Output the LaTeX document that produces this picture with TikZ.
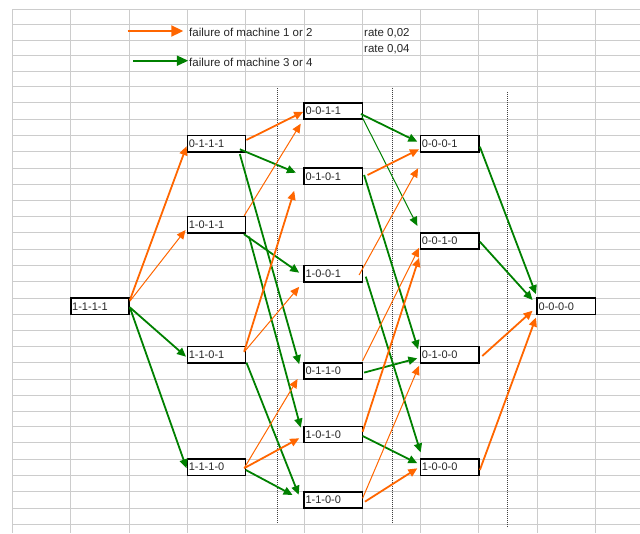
\documentclass[tikz,border=0pt]{standalone}
\usepackage{fontspec}
\setmainfont{Liberation Sans}
\usepackage{tikz}
\usetikzlibrary{arrows.meta}
\definecolor{xlorange}{RGB}{255,102,0}
\definecolor{xlgreen}{RGB}{0,128,0}
\definecolor{xlgrid}{RGB}{204,204,204}

\begin{document}
\begin{tikzpicture}[
  x=1pt, y=-1pt,
  state/.style={rectangle, draw=black, line width=1.6pt, fill=white,
                minimum height=16.2pt, inner xsep=1.5pt, inner ysep=0pt,
                text width=55.3pt, align=left, text=black!85,
                font=\fontsize{11}{13}\selectfont},
  note/.style={anchor=base west, inner sep=0pt, text=black!85,
               font=\fontsize{11.5}{14}\selectfont},
  orarr/.style={-{Triangle[length=9pt,width=8pt]}, draw=xlorange, line width=1.8pt},
  orthin/.style={orarr, line width=1pt},
  grarr/.style={-{Triangle[length=9pt,width=8pt]}, draw=xlgreen, line width=1.8pt},
  grthin/.style={grarr, line width=1pt},
  legor/.style={-{Triangle[length=12pt,width=11pt]}, draw=xlorange, line width=2pt},
  leggr/.style={-{Triangle[length=11.5pt,width=10pt]}, draw=xlgreen, line width=2pt},
  gridline/.style={draw=xlgrid, line width=0.9pt},
  divider/.style={draw=black!75, line width=0.6pt, dash pattern=on 1pt off 1pt},
]
  \useasboundingbox (0,0) rectangle (640,533);

  % sheet
  \foreach \i in {0,...,10}
    \draw[gridline] ({12.3+58.33*\i},9.3) -- ({12.3+58.33*\i},533);
  \foreach \gy in {9.3,24.3,40,55.7,71,86.7,102.3,119.3,135.7,151.7,168.3,184.3,
                   200.7,216.7,232.7,249,265.7,281.7,298.3,314.3,330.7,346.7,362.7,
                   379,395,411,426.7,442.3,459.3,475,491.7,508.3,524}
    \draw[gridline] (12.3,\gy) -- (640,\gy);
  \draw[divider] (277,88) -- (277,523.5);
  \draw[divider] (392,87.5) -- (392,523);
  \draw[divider] (507,92) -- (507,527);

  % legend
  \coordinate (or0) at (127.7,31);
  \coordinate (or1) at (183.3,31);
  \coordinate (gr0) at (133.3,60.7);
  \coordinate (gr1) at (188.3,60.7);
  \draw[legor] (or0) -- (or1);
  \draw[leggr] (gr0) -- (gr1);
  \node[note] (lg12) at (189,36.5) {failure of machine 1 or 2};
  \node[note] (lg34) at (189,66.5) {failure of machine 3 or 4};
  \node[note] (rt12) at (364,36.5) {rate 0,02};
  \node[note] (rt34) at (364,52) {rate 0,04};

  % states
  \node[state] (n1111) at (99.85,306.3) {1-1-1-1};
  \node[state] (n0111) at (216.5,143.7) {0-1-1-1};
  \node[state] (n1011) at (216.5,224.7) {1-0-1-1};
  \node[state] (n1101) at (216.5,354.7) {1-1-0-1};
  \node[state] (n1110) at (216.5,467.2) {1-1-1-0};
  \node[state] (n0011) at (333.15,110.8) {0-0-1-1};
  \node[state] (n0101) at (333.15,176.3) {0-1-0-1};
  \node[state] (n1001) at (333.15,273.7) {1-0-0-1};
  \node[state] (n0110) at (333.15,371.1) {0-1-1-0};
  \node[state] (n1010) at (333.15,434.5) {1-0-1-0};
  \node[state] (n1100) at (333.15,500) {1-1-0-0};
  \node[state] (n0001) at (449.6,143.7) {0-0-0-1};
  \node[state] (n0010) at (449.6,240.8) {0-0-1-0};
  \node[state] (n0100) at (449.6,354.7) {0-1-0-0};
  \node[state] (n1000) at (449.6,467.2) {1-0-0-0};
  \node[state] (n0000) at (566.3,306.3) {0-0-0-0};

  % transitions
  \draw[orarr] ([shift={(0,-6)}]n1111.east) -- ([shift={(0,2.5)}]n0111.west);
  \draw[orthin] ([shift={(0,-5)}]n1111.east) -- ([shift={(-1,5.3)}]n1011.west);
  \draw[grarr] ([shift={(0,1)}]n1111.east) -- ([shift={(-0.5,2)}]n1101.west);
  \draw[grarr] ([shift={(0,1)}]n1111.east) -- ([shift={(0,1)}]n1110.west);

  \draw[orarr] ([shift={(0,-3.7)}]n0111.east) -- ([shift={(0,1)}]n0011.west);
  \draw[grarr] ([shift={(-6.6,5.6)}]n0111.east) -- ([shift={(-7.3,-3.6)}]n0101.west);
  \draw[grarr] ([shift={(-6.6,1.5)}]n0111.south east) -- ([shift={(-4,2)}]n0110.north west);
  \draw[orthin] ([shift={(-2.3,0)}]n1011.north east) -- ([shift={(-2.5,4)}]n0011.south west);
  \draw[grarr] ([shift={(-2.6,0.5)}]n1011.south east) -- ([shift={(-4,-1)}]n1001.west);
  \draw[grarr] ([shift={(2.6,3)}]n1011.south east) -- ([shift={(-2.5,2)}]n1010.north west);
  \draw[orarr] ([shift={(-2.3,-3)}]n1101.east) -- ([shift={(-9,5.6)}]n0101.south west);
  \draw[orthin] ([shift={(-2.3,-2.7)}]n1101.east) -- ([shift={(-4,4.2)}]n1001.south west);
  \draw[grarr] ([shift={(0,-1)}]n1101.south east) -- ([shift={(-4.5,3.6)}]n1100.north west);
  \draw[orthin] ([shift={(-2.3,1)}]n1110.east) -- ([shift={(-5.6,-1)}]n0110.south west);
  \draw[orarr] ([shift={(-2.3,1)}]n1110.east) -- ([shift={(-4,3.8)}]n1010.west);
  \draw[grarr] ([shift={(-0.6,2.8)}]n1110.east) -- ([shift={(-10.6,-5)}]n1100.west);

  \draw[grarr] ([shift={(-2.2,3.2)}]n0011.east) -- ([shift={(-2.3,-2)}]n0001.west);
  \draw[grthin] ([shift={(-1.2,5.9)}]n0011.east) -- ([shift={(-2.3,-6)}]n0010.north west);
  \draw[orarr] ([shift={(4.4,-1.3)}]n0101.east) -- ([shift={(-0.6,5.6)}]n0001.west);
  \draw[grarr] ([shift={(1,-1.3)}]n0101.east) -- ([shift={(-1.6,3.4)}]n0100.north west);
  \draw[orthin] ([shift={(-4,1.3)}]n1001.east) -- ([shift={(-1.6,15.7)}]n0001.south west);
  \draw[grarr] ([shift={(2.7,3)}]n1001.east) -- ([shift={(1,-5.8)}]n1000.north west);
  \draw[orthin] ([shift={(-0.5,-1.4)}]n0110.north east) -- ([shift={(-0.6,-1.9)}]n0010.south west);
  \draw[grarr] ([shift={(1,1.5)}]n0110.east) -- ([shift={(-2.3,3.6)}]n0100.west);
  \draw[orarr] ([shift={(-0.5,-2.8)}]n1010.east) -- ([shift={(-0.6,8.1)}]n0010.south west);
  \draw[grarr] ([shift={(-0.5,1.5)}]n1010.east) -- ([shift={(-2.3,-3.9)}]n1000.west);
  \draw[orthin] ([shift={(-0.5,-1.7)}]n1100.east) -- ([shift={(-0.6,2.2)}]n0100.south west);
  \draw[orarr] ([shift={(1.8,1.7)}]n1100.east) -- ([shift={(-2.3,1.1)}]n1000.west);

  \draw[grarr] ([shift={(0.3,3)}]n0001.east) -- ([shift={(-0.4,-3.2)}]n0000.north west);
  \draw[grarr] ([shift={(0.3,0.9)}]n0010.east) -- ([shift={(-3.8,-6.3)}]n0000.west);
  \draw[orarr] ([shift={(2.7,1.3)}]n0100.east) -- ([shift={(-3.8,4.4)}]n0000.west);
  \draw[orarr] ([shift={(0.3,2.8)}]n1000.east) -- ([shift={(-0.4,2.3)}]n0000.south west);
\end{tikzpicture}
\end{document}
